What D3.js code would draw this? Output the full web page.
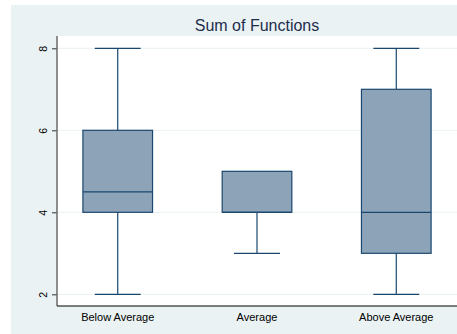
<!DOCTYPE html>
<html>
<head>
<meta charset="utf-8">
<script src="https://cdn.jsdelivr.net/npm/d3@7"></script>
<style>
  body { margin: 0; background: #ffffff; }
  svg text { font-family: "Liberation Sans", Arial, sans-serif; }
</style>
</head>
<body>
<div id="chart"></div>
<script>

// groups and their box summaries
var groups = ["Below Average", "Average", "Above Average"],
  mins = [2, 3, 2],
  q1s = [4, 4, 3],
  medians = [4.5, 4, 4],
  q3s = [6, 5, 7],
  maxs = [8, 5, 8];

var yTicks = [2, 4, 6, 8];

var W = 457, H = 334;
var margin = { top: 36, right: 0, bottom: 28, left: 57 },
  width = W - margin.left - margin.right,
  height = H - margin.top - margin.bottom;

var svg = d3.select("#chart")
  .append("svg")
  .attr("width", W)
  .attr("height", H);

// outer graph region
svg.append("rect")
  .attr("x", 11).attr("y", 5)
  .attr("width", W - 11).attr("height", H - 5)
  .attr("fill", "#eaf2f3");

// title
svg.append("text")
  .attr("x", 257)
  .attr("y", 31)
  .attr("text-anchor", "middle")
  .attr("font-size", "16px")
  .attr("fill", "#1e2d4c")
  .text("Sum of Functions");

var g = svg.append("g")
  .attr("transform", "translate(" + margin.left + "," + margin.top + ")");

// plot region
g.append("rect")
  .attr("width", width)
  .attr("height", height)
  .attr("fill", "#ffffff");

var x = d3.scalePoint()
  .domain(groups)
  .range([0, width])
  .padding(0.436);
var step = x.step();

var y = d3.scaleLinear()
  .domain([1.715, 8.3])
  .range([height, 0]);

// grid lines
g.selectAll(".grid")
  .data(yTicks)
  .enter().append("line")
  .attr("x1", 0).attr("x2", width)
  .attr("y1", function(d) { return y(d); })
  .attr("y2", function(d) { return y(d); })
  .attr("stroke", "#eaf2f3")
  .attr("stroke-width", 1);

// Y axis
var yAxis = g.append("g")
  .call(d3.axisLeft(y).tickValues(yTicks).tickSize(5).tickFormat(d3.format("d")));
yAxis.select(".domain").remove();
yAxis.selectAll(".tick line").attr("stroke", "#000000").attr("stroke-width", 0.8);
yAxis.selectAll(".tick text")
  .attr("font-size", "10.5px")
  .attr("fill", "#000000")
  .attr("text-anchor", "middle")
  .attr("transform", "rotate(-90)")
  .attr("x", 0)
  .attr("y", -10)
  .attr("dy", 0)
  .attr("font-family", "Liberation Sans, Arial, sans-serif");
g.append("line")
  .attr("x1", 0).attr("x2", 0)
  .attr("y1", 0).attr("y2", height)
  .attr("stroke", "#6a6a6a").attr("stroke-width", 1.5);

// X axis
g.append("line")
  .attr("x1", 0).attr("x2", width)
  .attr("y1", height).attr("y2", height)
  .attr("stroke", "#000000").attr("stroke-width", 1);
g.selectAll(".xlab")
  .data(groups)
  .enter().append("text")
  .attr("x", function(d) { return x(d); })
  .attr("y", height + 14.5)
  .attr("text-anchor", "middle")
  .attr("font-size", "11px")
  .attr("fill", "#000000")
  .text(function(d) { return d; });

var boxColor = "#8da3b8", lineColor = "#1a476f";

for (var i = 0; i < groups.length; i++) {
  var cx = x(groups[i]);
  var bw = step * 0.5, cw = step * 0.33;

  // lower whisker
  if (mins[i] < q1s[i]) {
    g.append("line")
      .attr("x1", cx).attr("x2", cx)
      .attr("y1", y(q1s[i])).attr("y2", y(mins[i]))
      .attr("stroke", lineColor).attr("stroke-width", 1.2);
    g.append("line")
      .attr("x1", cx - cw / 2).attr("x2", cx + cw / 2)
      .attr("y1", y(mins[i])).attr("y2", y(mins[i]))
      .attr("stroke", lineColor).attr("stroke-width", 1.2);
  }
  // upper whisker
  if (maxs[i] > q3s[i]) {
    g.append("line")
      .attr("x1", cx).attr("x2", cx)
      .attr("y1", y(q3s[i])).attr("y2", y(maxs[i]))
      .attr("stroke", lineColor).attr("stroke-width", 1.2);
    g.append("line")
      .attr("x1", cx - cw / 2).attr("x2", cx + cw / 2)
      .attr("y1", y(maxs[i])).attr("y2", y(maxs[i]))
      .attr("stroke", lineColor).attr("stroke-width", 1.2);
  }
  // box
  g.append("rect")
    .attr("x", cx - bw / 2)
    .attr("y", y(q3s[i]))
    .attr("width", bw)
    .attr("height", y(q1s[i]) - y(q3s[i]))
    .attr("fill", boxColor)
    .attr("stroke", lineColor)
    .attr("stroke-width", 1.2);
  // median
  g.append("line")
    .attr("x1", cx - bw / 2).attr("x2", cx + bw / 2)
    .attr("y1", y(medians[i])).attr("y2", y(medians[i]))
    .attr("stroke", lineColor).attr("stroke-width", 1.2);
}

</script>
</body>
</html>
